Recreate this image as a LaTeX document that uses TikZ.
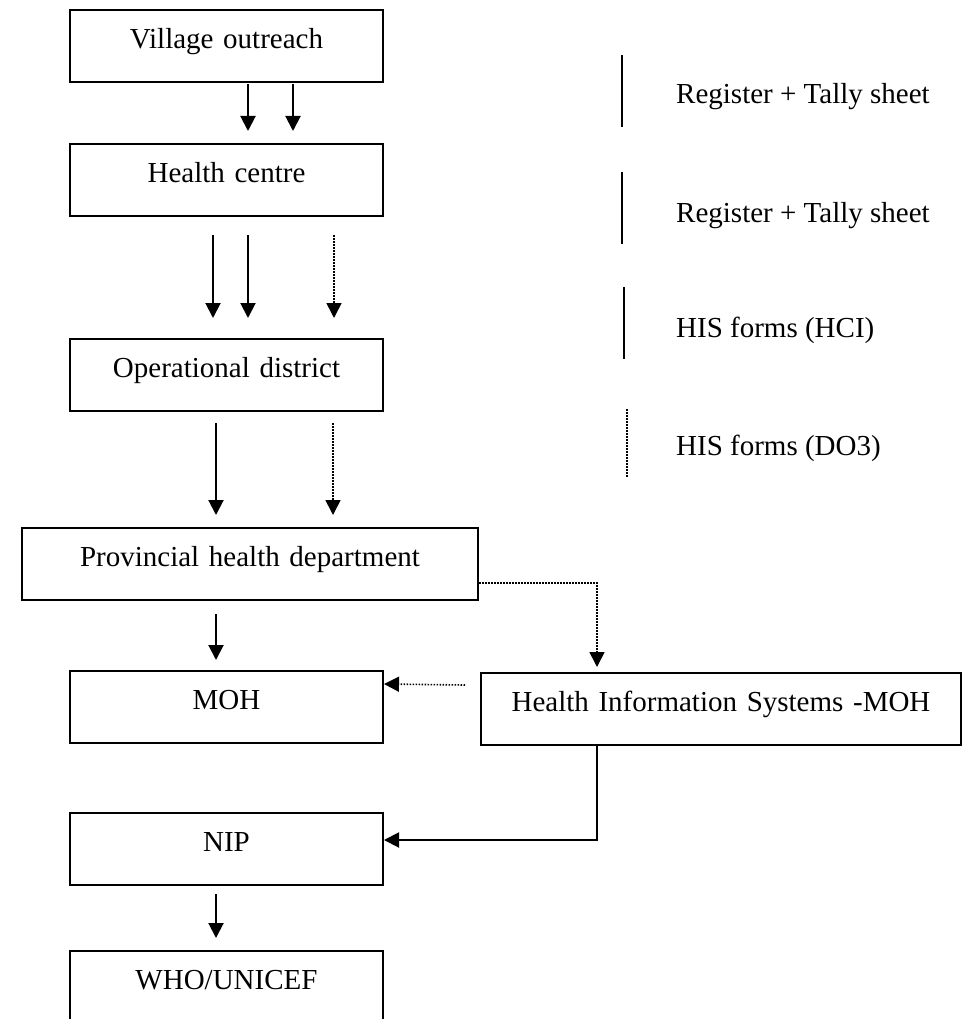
\documentclass[tikz,border=0pt]{standalone}
\usepackage{fontspec}
\setmainfont{Liberation Serif}
\usetikzlibrary{arrows.meta,calc}
\begin{document}
\begin{tikzpicture}[x=1pt,y=-1pt,
  box/.style={draw,line width=2pt,inner sep=0pt,align=center,text height=38.5pt,text depth=33.5pt,anchor=north west,font=\fontsize{29}{34}\selectfont},
  arr/.style={line width=2pt,-{Triangle[width=15pt,length=15pt]}},
  darr/.style={line width=1.6pt,dash pattern=on 1.5pt off 1.5pt,-{Triangle[width=15pt,length=15pt]}},
  legline/.style={line width=2pt},
  legdot/.style={line width=1.6pt,dash pattern=on 1.5pt off 1.5pt},
  leg/.style={anchor=base west,inner sep=0pt,font=\fontsize{29}{34}\selectfont}]
\useasboundingbox[fill=white] (0,0) rectangle (962,1019);

% boxes
\node[box,text width=313pt] (vo) at (69,9) {Village outreach};
\node[box,text width=313pt] (hc) at (69,143) {Health centre};
\node[box,text width=313pt] (od) at (69,338) {Operational district};
\node[box,text width=456pt] (pd) at (21,527) {Provincial health department};
\node[box,text width=313pt] (moh) at (69,670) {MOH};
\node[box,text width=480pt] (his) at (480,672) {Health Information Systems -MOH};
\node[box,text width=313pt] (nip) at (69,812) {NIP};
\node[box,text width=313pt] (who) at (69,950) {WHO/UNICEF};

% village -> health centre
\draw[arr] ($(vo.south west)+(179,1)$) -- ($(hc.north west)+(179,-12)$);
\draw[arr] ($(vo.south west)+(224,1)$) -- ($(hc.north west)+(224,-12)$);
% health centre -> operational district
\draw[arr] ($(hc.south west)+(144,18)$) -- ($(od.north west)+(144,-20)$);
\draw[arr] ($(hc.south west)+(179,18)$) -- ($(od.north west)+(179,-20)$);
\draw[darr] ($(hc.south west)+(265,18)$) -- ($(od.north west)+(265,-20)$);
% operational district -> provincial
\draw[arr] ($(od.south west)+(147,11)$) -- ($(pd.north west)+(195,-12)$);
\draw[darr] ($(od.south west)+(264,11)$) -- ($(pd.north west)+(312,-12)$);
% provincial -> MOH
\draw[arr] ($(pd.south west)+(195,13)$) -- ($(moh.north west)+(147,-10)$);
% provincial -> HIS
\draw[darr] ($(pd.north east)+(0,56)$) -| ($(his.north west)+(117,-5)$);
% HIS -> MOH
\draw[darr] ($(his.north west)+(-15,13)$) -- ($(moh.north east)+(0,14)$);
% HIS -> NIP
\draw[arr] ($(his.south west)+(117,0)$) |- ($(nip.north east)+(0,28)$);
% NIP -> WHO
\draw[arr] ($(nip.south west)+(147,8)$) -- ($(who.north west)+(147,-12)$);

% legend
\draw[legline] (622,55) -- (622,127);
\draw[legline] (622,172) -- (622,244);
\draw[legline] (624,287) -- (624,359);
\draw[legdot] (627,409) -- (627,478);
\node[leg] (l1) at (676,104) {Register + Tally sheet};
\node[leg] (l2) at (676,222) {Register + Tally sheet};
\node[leg] (l3) at (676,337) {HIS forms (HCI)};
\node[leg] (l4) at (676,455) {HIS forms (DO3)};
\end{tikzpicture}
\end{document}
